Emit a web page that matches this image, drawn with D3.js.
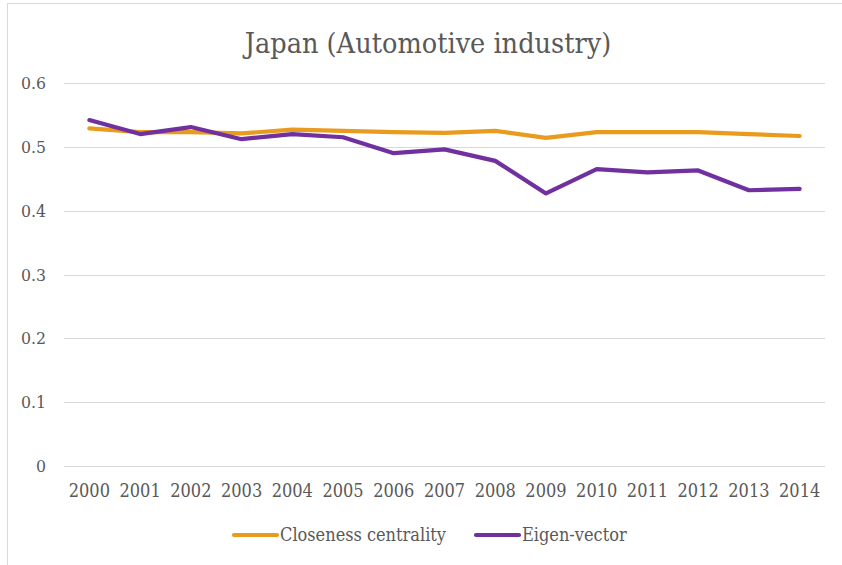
<!DOCTYPE html>
<html>
<head>
<meta charset="utf-8">
<script src="https://cdn.jsdelivr.net/npm/d3@7/dist/d3.min.js"></script>
<style>
  html, body { margin: 0; padding: 0; background: #fff; }
  svg text { font-family: "DejaVu Serif Condensed", "DejaVu Serif", serif; font-stretch: condensed; fill: #595959; }
</style>
</head>
<body>
<svg id="chart" width="842" height="565"></svg>
<script>
// Japan automotive industry: network centrality measures by year
const years = ["2000","2001","2002","2003","2004","2005","2006","2007","2008","2009","2010","2011","2012","2013","2014"];
const closeness = [0.529,0.523,0.523,0.521,0.527,0.525,0.523,0.522,0.525,0.514,0.523,0.523,0.523,0.520,0.517];
const eigenvector = [0.542,0.520,0.531,0.512,0.520,0.515,0.490,0.496,0.478,0.427,0.465,0.460,0.463,0.432,0.434];
const yTicks = [0, 0.1, 0.2, 0.3, 0.4, 0.5, 0.6];
const title = "Japan (Automotive industry)";
const seriesNames = ["Closeness centrality", "Eigen-vector"];
const seriesColors = ["#E99B1D", "#7030A0"];

const svg = d3.select("#chart");

// chart frame
svg.append("rect")
  .attr("x", 7.5).attr("y", 3.5)
  .attr("width", 860).attr("height", 600)
  .attr("fill", "none").attr("stroke", "#d9d9d9").attr("stroke-width", 1);

const plot = { left: 64, right: 825, top: 83, bottom: 466 };

const x = d3.scaleBand().domain(years).range([plot.left, plot.right]);
const y = d3.scaleLinear().domain([0, 0.6]).range([plot.bottom, plot.top]);

// title
svg.append("text")
  .attr("x", 428).attr("y", 53)
  .attr("text-anchor", "middle")
  .attr("font-size", 28.5)
  .text(title);

// horizontal gridlines
svg.append("g").selectAll("line").data(yTicks).join("line")
  .attr("x1", plot.left).attr("x2", plot.right)
  .attr("y1", d => Math.round(y(d)) + 0.5).attr("y2", d => Math.round(y(d)) + 0.5)
  .attr("stroke", "#d9d9d9").attr("stroke-width", 1);

// y axis labels
const yAxis = d3.axisLeft(y).tickValues(yTicks).tickSize(0).tickPadding(0)
  .tickFormat(d => d === 0 ? "0" : d3.format(".1f")(d));
const gy = svg.append("g").attr("transform", `translate(${46},0)`).call(yAxis);
gy.select(".domain").remove();
gy.selectAll("text").attr("font-size", 17.5).attr("font-family", null).attr("fill", "#595959");

// x axis labels
const xAxis = d3.axisBottom(x).tickSize(0).tickPadding(0);
const gx = svg.append("g").attr("transform", `translate(0,${484})`).call(xAxis);
gx.select(".domain").remove();
gx.selectAll("text").attr("font-size", 18).attr("font-family", null).attr("fill", "#595959");

// series lines
const line = d3.line().x((d, i) => x(years[i]) + x.bandwidth() / 2).y(d => y(d));
[closeness, eigenvector].forEach((vals, k) => {
  svg.append("path")
    .datum(vals)
    .attr("d", line)
    .attr("fill", "none")
    .attr("stroke", seriesColors[k])
    .attr("stroke-width", 4.2)
    .attr("stroke-linejoin", "round")
    .attr("stroke-linecap", "round");
});

// legend
const legendItems = [
  { name: seriesNames[0], color: seriesColors[0], x: 234 },
  { name: seriesNames[1], color: seriesColors[1], x: 476 }
];
const lg = svg.append("g");
legendItems.forEach(it => {
  lg.append("line")
    .attr("x1", it.x).attr("x2", it.x + 43)
    .attr("y1", 535).attr("y2", 535)
    .attr("stroke", it.color).attr("stroke-width", 4.2).attr("stroke-linecap", "round");
  lg.append("text")
    .attr("x", it.x + 46).attr("y", 541)
    .attr("font-size", 18)
    .text(it.name);
});
</script>
</body>
</html>
